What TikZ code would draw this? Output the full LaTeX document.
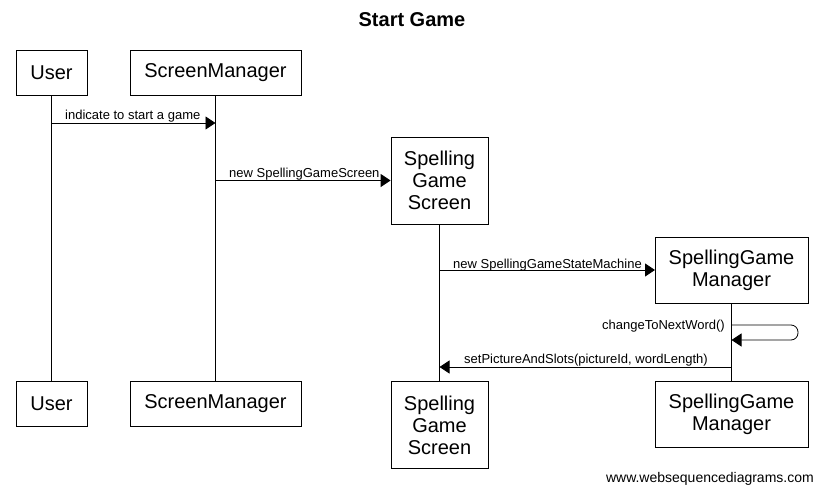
\documentclass[tikz,border=0pt]{standalone}
\usepackage{fontspec}
\setmainfont{Liberation Sans}
\usetikzlibrary{arrows.meta}
\begin{document}
\begin{tikzpicture}[x=1pt,y=-1pt,
  actor/.style={draw,line width=0.8pt,fill=white,inner sep=0pt,align=center,font=\fontsize{20}{22}\selectfont},
  life/.style={line width=0.8pt},
  msg/.style={line width=0.8pt,-{Triangle[length=10pt,width=13pt]}},
  lbl/.style={font=\fontsize{13}{15}\selectfont,inner sep=0pt,anchor=base}
]
\useasboundingbox (0,0) rectangle (823,493);
\node[font=\bfseries\fontsize{20}{24}\selectfont] (title) at (412,20) {Start Game};
% top boxes
\node[actor,minimum width=71pt,minimum height=45pt] (u1) at (51.5,72.5) {User};
\node[actor,minimum width=171pt,minimum height=45pt] (s1) at (215.5,72.5) {ScreenManager};
\node[actor,minimum width=97pt,minimum height=87pt] (g1) at (439.5,180.5) {Spelling\\Game\\Screen};
\node[actor,minimum width=153pt,minimum height=66pt] (m1) at (731.5,270) {SpellingGame\\Manager};
% bottom boxes
\node[actor,minimum width=71pt,minimum height=45pt] (u2) at (51.5,403.5) {User};
\node[actor,minimum width=171pt,minimum height=45pt] (s2) at (215.5,403.5) {ScreenManager};
\node[actor,minimum width=97pt,minimum height=87pt,anchor=north] (g2) at (439.5,381) {Spelling\\Game\\Screen};
\node[actor,minimum width=153pt,minimum height=66pt,anchor=north] (m2) at (731.5,381) {SpellingGame\\Manager};
% lifelines
\draw[life] (u1.south) -- (u2.north);
\draw[life] (s1.south) -- (s2.north);
\draw[life] (g1.south) -- (g2.north);
\draw[life] (m1.south) -- (m2.north);
% coordinates
\coordinate (a1) at (51.5,123);
\coordinate (a2) at (215.5,123);
\coordinate (b1) at (215.5,180.5);
\coordinate (c1) at (439.5,270);
\coordinate (c2) at (655,270);
\coordinate (d1) at (731.5,325);
\coordinate (d2) at (731.5,340);
\coordinate (e1) at (731.5,367);
\coordinate (e2) at (439.5,367);
% messages
\draw[msg] (a1) -- (a2);
\node[lbl,anchor=base west] (l1) at (65,119) {indicate to start a game};
\draw[msg] (b1) -- (g1.west);
\node[lbl,anchor=base west] (l2) at (229,177) {new SpellingGameScreen};
\draw[msg] (c1) -- (c2);
\node[lbl,anchor=base west] (l3) at (453,268) {new SpellingGameStateMachine};
\draw[msg,rounded corners=7pt] (d1) -- (798,325) -- (798,340) -- (d2);
\node[lbl,anchor=base east] (l4) at (725,329) {changeToNextWord()};
\draw[msg] (e1) -- (e2);
\node[lbl,anchor=base west] (l5) at (464,363) {setPictureAndSlots(pictureId, wordLength)};
\node[font=\fontsize{14}{16}\selectfont,anchor=base east,inner sep=0pt] (foot) at (814,482) {www.websequencediagrams.com};
\end{tikzpicture}
\end{document}
